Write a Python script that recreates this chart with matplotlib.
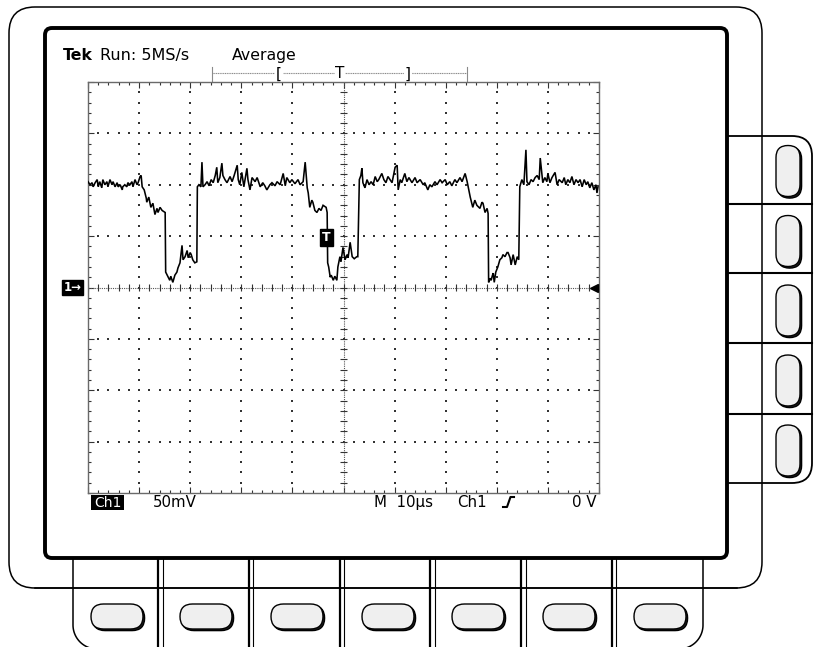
import numpy as np
import matplotlib
matplotlib.use("Agg")
import matplotlib.pyplot as plt
from matplotlib.patches import FancyBboxPatch, Rectangle
import matplotlib.transforms as mtrans

# ---------------- data (time in microseconds, Ch1 in mV) ----------------
seg_high1 = [(0.0,103),(0.4,100),(0.8,102),(1.0,98),(1.4,102),(1.8,105),(2.0,98),(2.3,103),(2.7,97),(2.9,105),
             (3.3,100),(3.7,103),(3.9,98),(4.3,105),(4.7,100),(4.9,103),(5.3,98),(5.7,102),(5.9,98),(6.3,100),
             (6.7,95),(6.8,98),(7.2,100),(7.6,98),(7.8,102),(8.2,100),(8.6,103),(8.8,98),(9.2,105),(9.6,100),
             (9.8,102),(10.2,108),(10.4,109),(10.6,98)]
seg_step1 = [(11.0,95),(11.4,87),(11.5,83),(11.9,88),(12.3,78),(12.7,82),(13.1,71),(13.5,77),(13.7,73),
             (14.1,78),(14.5,75),(15.1,73)]
seg_low1 = [(15.2,15),(15.7,10),(16.0,7),(16.2,11),(16.6,5),(17.0,12),(17.4,15),(17.6,19),(18.0,24),(18.4,41),
            (18.6,27),(19.0,30),(19.4,36),(19.6,29),(20.0,34),(20.2,32),(20.5,27),(20.9,24),(21.3,25)]
seg_high2 = [(21.4,98),(21.7,100),(22.1,98),(22.3,122),(22.5,98),(22.9,100),(23.3,103),(23.7,99),(24.1,105),
             (24.5,102),(24.9,109),(25.2,117),(25.4,102),(25.8,107),(26.2,121),(26.4,109),(26.8,105),(27.2,102),
             (27.8,108),(28.2,103),(28.6,109),(29.2,119),(29.4,105),(29.7,100),(30.1,112),(30.5,98),(31.1,116),
             (31.3,105),(31.7,95),(32.1,107),(32.7,103),(33.1,107),(33.7,98),(34.2,102),(34.6,99),(35.0,95),
             (35.6,100),(36.0,102),(36.6,99),(37.0,103),(37.6,100),(38.2,111),(38.6,99),(38.9,107),(39.5,102),
             (39.9,105),(40.5,101),(41.1,105),(41.5,100),(42.1,103),(42.5,122),(42.9,97)]
seg_step2 = [(43.1,92),(43.4,78),(43.8,85),(44.0,83),(44.4,75),(44.8,73),(45.2,77),(45.6,75),(46.0,80),
             (46.6,78),(46.8,73)]
seg_low2 = [(46.9,24),(47.1,20),(47.4,10),(47.6,12),(48.0,7),(48.3,11),(48.7,7),(48.9,20),(49.3,30),(49.5,25),
            (49.7,32),(49.9,39),(50.3,27),(50.7,32),(50.9,29),(51.3,44),(51.7,30),(52.1,28),(52.6,30),(52.8,30)]
seg_high3 = [(53.1,105),(53.4,109),(53.6,116),(53.8,102),(54.2,97),(54.6,105),(55.0,100),(55.4,103),(55.8,100),
             (56.2,108),(56.6,103),(56.9,105),(57.5,111),(57.9,105),(58.3,102),(58.7,108),(59.1,105),(59.5,102),
             (60.1,117),(60.5,119),(60.7,95),(61.1,105),(61.4,102),(62.0,111),(62.4,103),(62.8,107),(63.4,102),
             (64.0,107),(64.4,102),(65.0,105),(65.6,100),(65.9,102),(66.5,95),(66.9,100),(67.3,98),(67.9,103),
             (68.3,100),(68.9,105),(69.3,102),(69.9,105),(70.3,100),(70.8,103),(71.2,99),(71.8,105),(72.2,102),
             (72.8,107),(73.2,103),(73.8,111),(74.2,103)]
seg_step3 = [(74.4,98),(74.8,88),(75.1,82),(75.3,78),(75.7,85),(76.1,80),(76.7,77),(77.1,83),(77.3,82),
             (77.7,73),(78.1,77),(78.3,72)]
seg_low3 = [(78.4,5),(78.7,9),(78.9,7),(79.1,11),(79.3,14),(79.5,5),(79.8,15),(80.2,20),(80.6,27),(81.0,29),
            (81.2,32),(81.6,30),(82.0,34),(82.2,34),(82.6,29),(82.8,22),(83.2,32),(83.6,22),(84.0,30),(84.3,27)]
seg_high4 = [(84.5,98),(84.9,105),(85.3,100),(85.7,134),(85.9,103),(86.3,100),(86.7,105),(87.1,103),(87.5,107),
             (87.9,109),(88.3,105),(88.5,126),(88.8,111),(89.0,102),(89.4,107),(89.8,103),(90.0,111),(90.4,102),
             (90.8,107),(91.4,112),(91.8,100),(92.2,105),(92.8,102),(93.2,107),(93.5,100),(93.9,105),(94.3,102),
             (94.7,108),(95.1,100),(95.5,105),(95.9,102),(96.3,105),(96.7,98),(97.1,105),(97.5,100),(97.8,103),
             (98.2,97),(98.6,102),(99.0,95),(99.4,100),(99.6,92),(99.8,98)]

trigger_point = (46.7, 49)        # position of the "T" trigger marker (us, mV)
ground_level_mV = 0
trigger_level_mV = 0

header_bold = "Tek"
header_run = "Run: 5MS/s"
header_mode = "Average"
ch_label = "Ch1"
volts_div = "50mV"
time_div = "M  10\u00b5s"
trig_src = "Ch1"
trig_level = "0 V"

# ---------------- figure ----------------
W, H = 814, 647
fig = plt.figure(figsize=(W / 100, H / 100), dpi=100, facecolor="white")
plt.rcParams["font.family"] = ["DejaVu Sans"]

bz = fig.add_axes([0, 0, 1, 1])
bz.set_xlim(0, W)
bz.set_ylim(H, 0)
bz.axis("off")


def rbox(ax, x0, y0, x1, y1, r, **kw):
    p = FancyBboxPatch((x0, y0), x1 - x0, y1 - y0,
                       boxstyle=f"round,pad=0,rounding_size={r}", **kw)
    ax.add_patch(p)
    return p


def capsule(ax, cx, cy, w, h):
    r = min(w, h) / 2
    rbox(ax, cx - w / 2 + 1.6, cy - h / 2 + 1.6, cx + w / 2 + 1.6, cy + h / 2 + 1.6, r,
         fc="#202020", ec="black", lw=1.0, zorder=6)
    rbox(ax, cx - w / 2, cy - h / 2, cx + w / 2, cy + h / 2, r,
         fc="#efefef", ec="black", lw=1.0, zorder=7)


# outer bezel
rbox(bz, 9, 7, 762, 588, 26, fc="none", ec="black", lw=1.1, zorder=2)
bz.plot([35, 737], [588, 588], color="black", lw=1.1, zorder=3)
# side button panel
rbox(bz, 690, 136, 812, 483, 20, fc="none", ec="black", lw=1.3, zorder=3)
for yy in [204, 273, 343, 414]:
    bz.plot([727, 812], [yy, yy], color="black", lw=1.5, zorder=3)
for cy in [171, 241, 310.5, 380.5, 450.5]:
    capsule(bz, 788, cy, 24, 51)

# bottom button panel (open at the bottom edge of the picture)
ang = np.linspace(0, np.pi / 2, 30)
rr = 24
lx = 73 + rr - rr * np.cos(ang)
ly = 625 + rr * np.sin(ang)
bz.plot(np.r_[73, lx], np.r_[558, ly], color="black", lw=1.1, zorder=3)
rx = 703 - rr + rr * np.cos(ang)
bz.plot(np.r_[703, rx], np.r_[558, ly], color="black", lw=1.1, zorder=3)
for k in range(6):
    xx = 158.3 + 90.7 * k
    bz.plot([xx, xx], [558, 650], color="black", lw=1.6, zorder=3)
    bz.plot([xx + 4.4, xx + 4.4], [558, 650], color="black", lw=0.8, zorder=3)
for cx in [117, 206, 297, 388, 478, 569, 660]:
    capsule(bz, cx, 616.5, 52, 25)

# display
rbox(bz, 45, 28, 727, 558, 7, fc="white", ec="black", lw=2.8, zorder=4)

# header texts
bz.text(63, 60, header_bold, fontsize=11.3, fontweight="bold", va="baseline", ha="left", zorder=8)
bz.text(100, 60, header_run, fontsize=11.5, va="baseline", ha="left", zorder=8)
bz.text(232, 60, header_mode, fontsize=11.3, va="baseline", ha="left", zorder=8)

# record-position bracket bar
bz.plot([212, 467], [73, 73], color="#8a8a8a", lw=0.8, ls=(0, (1, 0.6)), zorder=8)
for xx in [212, 467]:
    bz.plot([xx, xx], [67, 82], color="#8a8a8a", lw=0.8, zorder=8)
for xx, s in [(279, "["), (340, "T"), (408, "]")]:
    bz.text(xx, 74, s, fontsize=11, ha="center", va="center", zorder=9,
            bbox=dict(boxstyle="square,pad=0.05", fc="white", ec="none"))

# bottom readout
bz.add_patch(Rectangle((91, 495), 33, 14.5, fc="black", ec="none", zorder=8))
bz.text(107.5, 507, ch_label, color="white", fontsize=10.0, ha="center", va="baseline", zorder=9)
bz.text(153, 507, volts_div, fontsize=10.8, ha="left", va="baseline", zorder=8)
bz.text(374, 507, time_div, fontsize=10.8, ha="left", va="baseline", zorder=8)
bz.text(457, 507, trig_src, fontsize=10.8, ha="left", va="baseline", zorder=8)
bz.plot([503, 507, 510.5, 514], [507, 507, 497, 497], color="black", lw=1.5, zorder=8)
bz.text(596, 507, trig_level, fontsize=10.8, ha="right", va="baseline", zorder=8)

# ---------------- graticule ----------------
gl, gr, gt, gb = 88, 599, 82, 493
ax = fig.add_axes([gl / W, (H - gb) / H, (gr - gl) / W, (gb - gt) / H])
ax.set_facecolor("none")
ax.set_xlim(0, 100)
ax.set_ylim(-200, 200)
for sp in ax.spines.values():
    sp.set_color("#6a6a6a")
    sp.set_linewidth(1.0)
ax.set_xticks(np.arange(0, 101, 10))
ax.set_yticks(np.arange(-200, 201, 50))
ax.set_xticks(np.arange(0, 101, 2), minor=True)
ax.set_yticks(np.arange(-200, 201, 10), minor=True)
ax.tick_params(which="both", direction="in", top=True, right=True,
               labelbottom=False, labelleft=False, color="#333333", width=0.8)
ax.tick_params(which="major", length=4.5)
ax.tick_params(which="minor", length=2)

xs_minor = np.arange(2, 100, 2)
ys_minor = np.arange(-190, 200, 10)
for yv in [-150, -100, -50, 50, 100, 150]:
    ax.scatter(xs_minor, np.full_like(xs_minor, yv, dtype=float), s=0.6, marker="s",
               color="#333333", linewidths=0, zorder=2)
for xv in [10, 20, 30, 40, 60, 70, 80, 90]:
    ax.scatter(np.full_like(ys_minor, xv, dtype=float), ys_minor, s=0.6, marker="s",
               color="#333333", linewidths=0, zorder=2)

# centre lines
ax.axhline(0, color="#555555", lw=0.8, ls=(0, (1, 1)), zorder=2)
ax.axvline(50, color="#555555", lw=0.8, ls=(0, (1, 1)), zorder=2)
ax.vlines(np.arange(0, 101, 2), -3.2, 3.2, color="#333333", lw=0.8, zorder=2)
ax.hlines(np.arange(-200, 201, 10), 50 - 0.6, 50 + 0.6, color="#333333", lw=0.8, zorder=2)

# waveform
wave = seg_high1 + seg_step1 + seg_low1 + seg_high2 + seg_step2 + seg_low2 + \
       seg_high3 + seg_step3 + seg_low3 + seg_high4
t_us = [p[0] for p in wave]
v_mV = [p[1] for p in wave]
ax.plot(t_us, v_mV, color="black", lw=1.15, zorder=5, solid_joinstyle="miter")

# trigger point marker
ax.text(trigger_point[0], trigger_point[1], "T", color="white", fontsize=9, fontweight="bold",
        ha="center", va="center", zorder=6,
        bbox=dict(boxstyle="square,pad=0.15", fc="black", ec="black"))

# trigger level arrow at the right edge
ax.plot([99.0], [trigger_level_mV], marker="<", ms=5.5, color="black", clip_on=False, zorder=6)

# ground reference marker "1->"
blend = mtrans.blended_transform_factory(bz.transData, ax.transData)
ax.text(72.5, ground_level_mV, "1\u2192", transform=blend, color="white", fontsize=8.5,
        fontweight="bold", ha="center", va="center", clip_on=False, zorder=6,
        bbox=dict(boxstyle="square,pad=0.12", fc="black", ec="black"))

fig.savefig("out.png", dpi=100, facecolor="white")
